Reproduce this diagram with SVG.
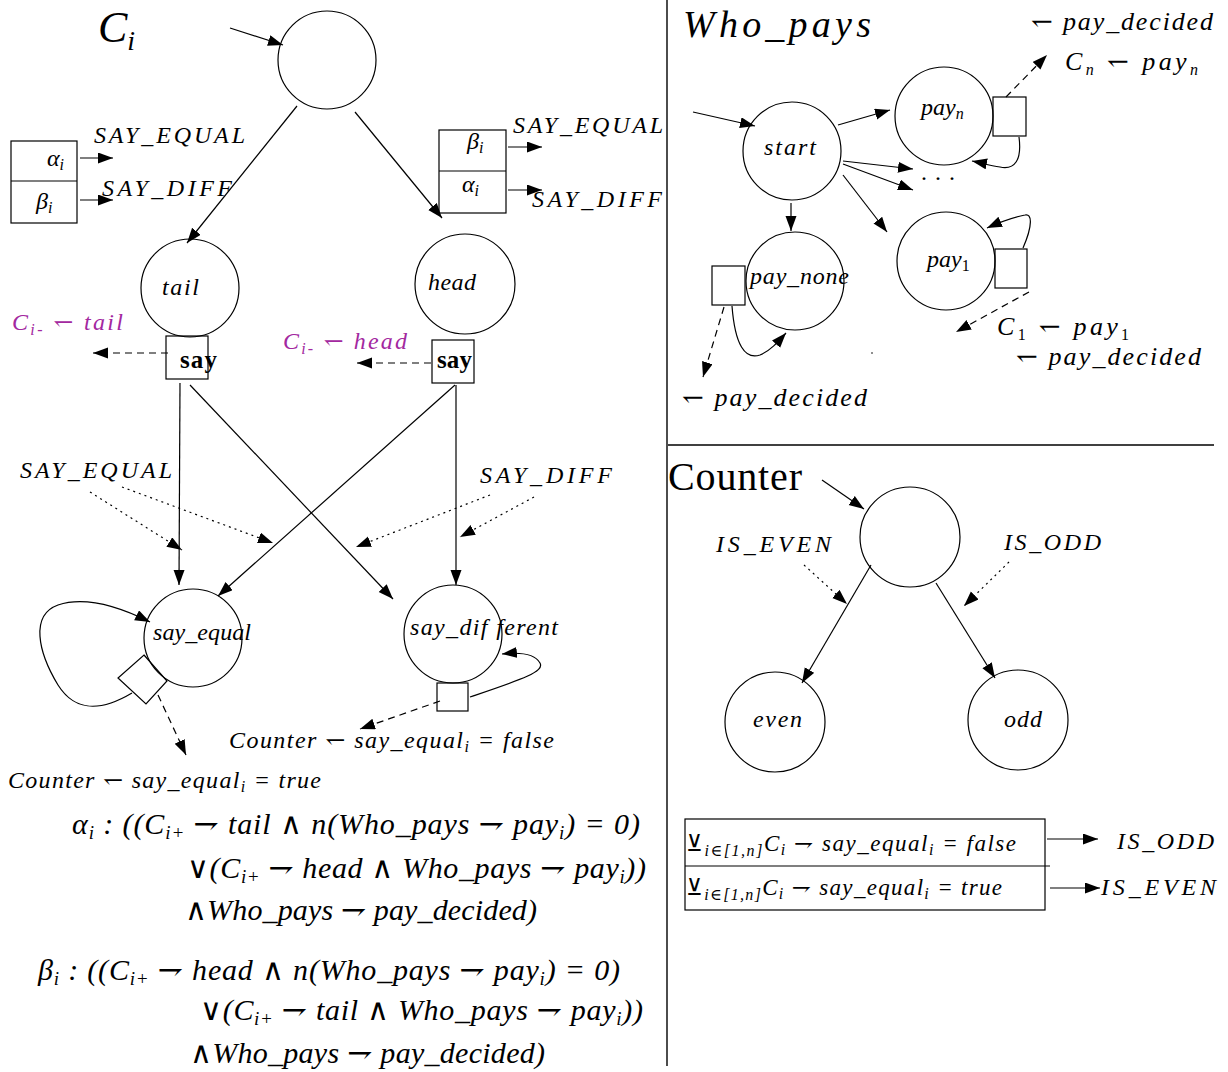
<svg xmlns="http://www.w3.org/2000/svg" width="1228" height="1072" viewBox="0 0 1228 1072">
<defs>
<marker id="ah" markerUnits="userSpaceOnUse" markerWidth="16" markerHeight="12" refX="15" refY="5.5" orient="auto"><path d="M0,0 L15,5.5 L0,11 z" fill="#000"/></marker>
<style>
.n{fill:none;stroke:#000;stroke-width:1.2}
.c{fill:none;stroke:#000;stroke-width:1.2;marker-end:url(#ah)}
.d{stroke-dasharray:7 5}
.o{stroke-dasharray:2 4}
.dv{stroke:#000;stroke-width:1.4}
text{font-family:"Liberation Serif","DejaVu Serif",serif;font-style:italic;fill:#000}
.m{font-size:24px}
.f{font-size:30px}
.s{font-size:16px}
.sf{font-size:19px}
.h{font-family:"DejaVu Serif",serif;font-style:normal}
.up{font-style:normal}
.p{fill:#a3289f}
.b{font-family:"Liberation Serif",serif;font-style:normal;font-weight:bold;font-size:25px}
</style>
</defs>
<rect width="1228" height="1072" fill="#fff"/>
<g id="dividers">
<line class="dv" x1="667" y1="0" x2="667" y2="1066"/>
<line class="dv" x1="668" y1="445" x2="1214" y2="445"/>
</g>
<g id="title-ci"><text x="98" y="42" font-size="44">C<tspan font-size="28" dy="8">i</tspan></text></g>
<g id="node-ci-init"><circle class="n" cx="327" cy="60" r="49"/></g>
<g id="node-tail"><circle class="n" cx="190" cy="288" r="49"/><text class="m" x="162" y="295" textLength="37">tail</text></g>
<g id="node-head"><circle class="n" cx="465" cy="284" r="50"/><text class="m" x="428" y="290" textLength="48">head</text></g>
<g id="box-left"><rect class="n" x="11" y="141" width="66" height="82"/><line class="n" x1="11" y1="181" x2="77" y2="181"/>
<text class="m" x="47" y="166">α<tspan class="s" dy="4">i</tspan></text>
<text class="m" x="36" y="209">β<tspan class="s" dy="4">i</tspan></text></g>
<g id="box-right"><rect class="n" x="439" y="130" width="67" height="83"/><line class="n" x1="439" y1="171" x2="506" y2="171"/>
<text class="m" x="467" y="149">β<tspan class="s" dy="4">i</tspan></text>
<text class="m" x="462" y="192">α<tspan class="s" dy="4">i</tspan></text></g>
<g id="say-tail"><rect class="n" x="166" y="336" width="42" height="43"/><text class="b" x="180" y="368" textLength="37">say</text></g>
<g id="say-head"><rect class="n" x="432" y="340" width="42" height="43"/><text class="b" x="437" y="368" textLength="35">say</text></g>
<g id="node-say-equal"><circle class="n" cx="193" cy="638" r="49"/><polygon class="n" points="144,655 167,681 146,704 118,678"/><text class="m" x="153" y="640" textLength="98">say_equal</text></g>
<g id="node-say-different"><circle class="n" cx="453" cy="634" r="49"/><rect class="n" x="437" y="683" width="31" height="28"/><text class="m" x="410" y="635" textLength="148">say_dif ferent</text></g>

<g id="node-start"><circle class="n" cx="792" cy="151" r="49"/><text class="m" x="764" y="155" textLength="52">start</text></g>
<g id="node-pay-n"><circle class="n" cx="944" cy="116" r="49"/><rect class="n" x="993" y="97" width="33" height="39"/><text class="m" x="921" y="115">pay<tspan class="s" dy="4">n</tspan></text></g>
<g id="node-pay-none"><circle class="n" cx="795" cy="281" r="49"/><rect class="n" x="712" y="266" width="33" height="39"/><text class="m" x="750" y="284" textLength="99">pay_none</text></g>
<g id="node-pay-1"><circle class="n" cx="946" cy="261" r="49"/><rect class="n" x="995" y="249" width="32" height="39"/><text class="m" x="927" y="267">pay<tspan class="s" dy="4" font-style="normal">1</tspan></text></g>
<g id="node-counter-init"><circle class="n" cx="910" cy="537" r="50"/></g>
<g id="node-even"><circle class="n" cx="775" cy="722" r="50"/><text class="m" x="753" y="727" textLength="49">even</text></g>
<g id="node-odd"><circle class="n" cx="1018" cy="720" r="50"/><text class="m" x="1004" y="727" textLength="38">odd</text></g>
<g id="box-counter"><rect class="n" x="685" y="819" width="360" height="91"/><line class="n" x1="685" y1="866" x2="1050" y2="866"/>
<text x="686" y="851" font-size="23" textLength="330"><tspan class="h">⊻</tspan><tspan class="s" dy="5">i∈[1,n]</tspan><tspan dy="-5">C</tspan><tspan class="s" dy="4">i</tspan><tspan dy="-4"> </tspan><tspan class="h">⇁</tspan> say_equal<tspan class="s" dy="4">i</tspan><tspan dy="-4"> = false</tspan></text>
<text x="686" y="895" font-size="23" textLength="316"><tspan class="h">⊻</tspan><tspan class="s" dy="5">i∈[1,n]</tspan><tspan dy="-5">C</tspan><tspan class="s" dy="4">i</tspan><tspan dy="-4"> </tspan><tspan class="h">⇁</tspan> say_equal<tspan class="s" dy="4">i</tspan><tspan dy="-4"> = true</tspan></text></g>

<g id="connectors">
<path class="c" d="M230,28 L283,45"/>
<path class="c" d="M297,106 L187,243"/>
<path class="c" d="M355,112 L442,218"/>
<path class="c" d="M80,158 L113,158"/>
<path class="c" d="M80,200 L113,200"/>
<path class="c" d="M508,147 L542,147"/>
<path class="c" d="M508,190 L542,190"/>
<path class="c d" d="M168,353 L93,353"/>
<path class="c d" d="M431,363 L357,363"/>
<path class="c" d="M180,383 L179,585"/>
<path class="c" d="M190,385 L393,599"/>
<path class="c" d="M455,385 L218,596"/>
<path class="c" d="M456,385 L456,585"/>
<path class="c o" d="M90,492 L182,550"/>
<path class="c o" d="M122,487 L273,543"/>
<path class="c o" d="M490,495 L356,547"/>
<path class="c o" d="M534,497 L460,537"/>
<path class="c" d="M132,693 C100,712 75,712 58,685 C38,652 30,615 58,605 C85,596 120,607 150,622"/>
<path class="c d" d="M158,695 L186,755"/>
<path class="c" d="M470,697 C520,680 545,672 540,663 C535,654 520,652 502,654"/>
<path class="c d" d="M440,701 L360,729"/>
<path class="c" d="M693,112 L755,126"/>
<path class="c" d="M838,125 L890,110"/>
<path class="c" d="M843,161 L913,169"/>
<path class="c" d="M843,164 L913,190"/>
<path class="c" d="M843,175 L887,232"/>
<path class="c" d="M791,203 L791,231"/>
<path class="c d" d="M1006,97 L1047,55"/>
<path class="c" d="M1019,137 C1022,160 1015,170 1000,167 C990,166 982,163 972,161"/>
<path class="c" d="M732,306 C735,345 745,360 760,355 C770,351 778,342 786,333"/>
<path class="c d" d="M724,307 L703,377"/>
<path class="c" d="M1023,248 C1033,225 1032,213 1025,215 C1010,218 998,223 987,228"/>
<path class="c d" d="M1029,292 L956,332"/>
<path class="c" d="M822,480 L864,509"/>
<path class="c o" d="M804,565 L847,604"/>
<path class="c o" d="M1009,562 L964,606"/>
<path class="c" d="M871,565 L802,683"/>
<path class="c" d="M936,583 L995,678"/>
<path class="c" d="M1047,839 L1098,839"/>
<path class="c" d="M1050,888 L1100,888"/>
</g>

<g id="labels">
<text class="m" x="94" y="143" textLength="151">SAY_EQUAL</text>
<text class="m" x="102" y="196" textLength="130">SAY_DIFF</text>
<text class="m" x="513" y="133" textLength="150">SAY_EQUAL</text>
<text class="m" x="532" y="207" textLength="130">SAY_DIFF</text>
<text class="m p" x="12" y="330" textLength="111">C<tspan class="s" dy="5">i-</tspan><tspan dy="-5"> </tspan><tspan class="h">↽</tspan> tail</text>
<text class="m p" x="283" y="349" textLength="124">C<tspan class="s" dy="5">i-</tspan><tspan dy="-5"> </tspan><tspan class="h">↽</tspan> head</text>
<text class="m" x="20" y="478" textLength="152">SAY_EQUAL</text>
<text class="m" x="480" y="483" textLength="132">SAY_DIFF</text>
<text class="m" x="229" y="748" textLength="325">Counter <tspan class="h">↽</tspan> say_equal<tspan class="s" dy="4">i</tspan><tspan dy="-4"> = false</tspan></text>
<text class="m" x="8" y="788" textLength="313">Counter <tspan class="h">↽</tspan> say_equal<tspan class="s" dy="4">i</tspan><tspan dy="-4"> = true</tspan></text>
<text class="f" x="72" y="834" textLength="568">α<tspan class="sf" dy="5">i</tspan><tspan dy="-5"> : ((C</tspan><tspan class="sf" dy="5">i+</tspan><tspan dy="-5"> </tspan><tspan class="h">⇁</tspan> tail <tspan class="h">∧</tspan> n(Who_pays <tspan class="h">⇁</tspan> pay<tspan class="sf" dy="5">i</tspan><tspan dy="-5">) = 0)</tspan></text>
<text class="f" x="187" y="878" textLength="459"><tspan class="h">∨</tspan>(C<tspan class="sf" dy="5">i+</tspan><tspan dy="-5"> </tspan><tspan class="h">⇁</tspan> head <tspan class="h">∧</tspan> Who_pays <tspan class="h">⇁</tspan> pay<tspan class="sf" dy="5">i</tspan><tspan dy="-5">))</tspan></text>
<text class="f" x="185" y="920" textLength="352"><tspan class="h">∧</tspan>Who_pays <tspan class="h">⇁</tspan> pay_decided)</text>
<text class="f" x="38" y="980" textLength="582">β<tspan class="sf" dy="5">i</tspan><tspan dy="-5"> : ((C</tspan><tspan class="sf" dy="5">i+</tspan><tspan dy="-5"> </tspan><tspan class="h">⇁</tspan> head <tspan class="h">∧</tspan> n(Who_pays <tspan class="h">⇁</tspan> pay<tspan class="sf" dy="5">i</tspan><tspan dy="-5">) = 0)</tspan></text>
<text class="f" x="200" y="1020" textLength="443"><tspan class="h">∨</tspan>(C<tspan class="sf" dy="5">i+</tspan><tspan dy="-5"> </tspan><tspan class="h">⇁</tspan> tail <tspan class="h">∧</tspan> Who_pays <tspan class="h">⇁</tspan> pay<tspan class="sf" dy="5">i</tspan><tspan dy="-5">))</tspan></text>
<text class="f" x="190" y="1063" textLength="355"><tspan class="h">∧</tspan>Who_pays <tspan class="h">⇁</tspan> pay_decided)</text>
<text x="683" y="37" font-size="38" textLength="188">Who_pays</text>
<text x="1031" y="30" font-size="26" textLength="182"><tspan class="h">↽</tspan> pay_decided</text>
<text x="1065" y="70" font-size="26" textLength="133">C<tspan class="s" dy="5">n</tspan><tspan dy="-5"> </tspan><tspan class="h">↽</tspan> pay<tspan class="s" dy="5">n</tspan></text>
<text class="m up" x="920" y="186">· · ·</text>
<text x="682" y="406" font-size="26" textLength="185"><tspan class="h">↽</tspan> pay_decided</text>
<text x="997" y="335" font-size="26" textLength="132">C<tspan class="s up" dy="5">1</tspan><tspan dy="-5"> </tspan><tspan class="h">↽</tspan> pay<tspan class="s up" dy="5">1</tspan></text>
<text x="1016" y="365" font-size="26" textLength="185"><tspan class="h">↽</tspan> pay_decided</text>
<circle cx="872" cy="353" r="0.8" fill="#000"/>
<text class="up" x="668" y="490" font-size="40" textLength="134">Counter</text>
<text class="m" x="716" y="552" textLength="115">IS_EVEN</text>
<text class="m" x="1004" y="550" textLength="97">IS_ODD</text>
<text class="m" x="1117" y="849" textLength="97">IS_ODD</text>
<text class="m" x="1101" y="895" textLength="115">IS_EVEN</text>
</g>
</svg>
